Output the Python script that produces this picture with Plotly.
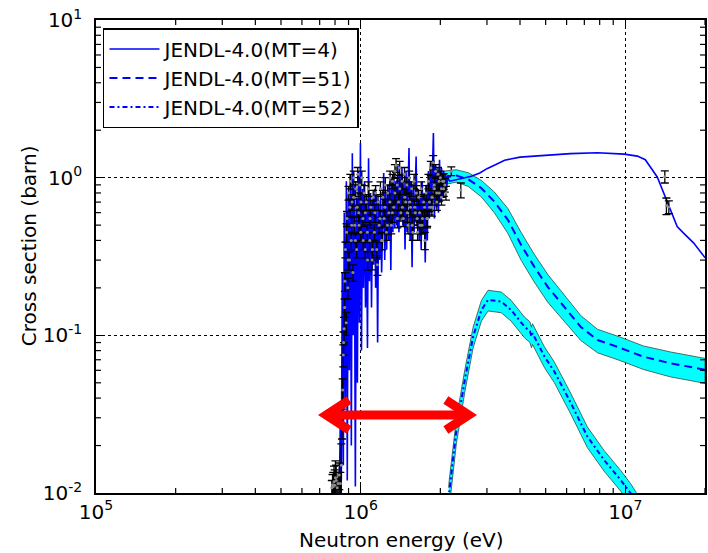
import math
import plotly.graph_objects as go

# ---------------------------------------------------------------------------
# Evaluated cross sections (JENDL-4.0), energies in MeV, cross sections in barn
# ---------------------------------------------------------------------------

# MT=4 : total inelastic (resolved structure below ~2.1 MeV, smooth above)
mt4_energy_mev = [
    0.830, 0.838, 0.845, 0.852, 0.860, 0.867, 0.875, 0.883, 0.890, 0.898,
    0.906, 0.914, 0.922, 0.930, 0.938, 0.946, 0.955, 0.963, 0.972, 0.980,
    0.989, 0.998, 1.007, 1.016, 1.025, 1.034, 1.043, 1.052, 1.061, 1.071,
    1.080, 1.090, 1.099, 1.109, 1.119, 1.129, 1.139, 1.149, 1.159, 1.169,
    1.180, 1.190, 1.200, 1.211, 1.222, 1.233, 1.243, 1.254, 1.266, 1.277,
    1.288, 1.300, 1.311, 1.323, 1.334, 1.346, 1.358, 1.370, 1.382, 1.395,
    1.407, 1.420, 1.432, 1.445, 1.458, 1.471, 1.484, 1.497, 1.510, 1.523,
    1.537, 1.550, 1.564, 1.578, 1.592, 1.606, 1.620, 1.635, 1.649, 1.664,
    1.679, 1.693, 1.708, 1.724, 1.739, 1.754, 1.770, 1.786, 1.802, 1.818,
    1.834, 1.850, 1.867, 1.883, 1.900, 1.917, 1.934, 1.951, 1.968, 1.986,
    2.003, 2.021, 2.039, 2.057, 2.075, 2.094, 2.112, 2.130,
    2.17, 2.40, 2.62, 2.82, 3.00, 3.20, 3.50, 4.00, 4.50, 5.10,
    6.20, 7.85, 9.90, 11.1, 11.9, 13.2, 14.7, 15.7, 16.6, 18.1,
    19.8, 20.0,
]
mt4_xs = [
    0.009, 0.030, 0.012, 0.25, 0.015, 0.60, 0.04, 0.95, 0.012, 0.80,
    0.06, 1.05, 0.02, 1.43, 0.10, 0.90, 0.011, 0.75, 0.05, 1.10,
    0.12, 1.66, 0.08, 0.85, 0.20, 0.95, 0.15, 0.75, 0.083, 1.33,
    0.22, 0.80, 0.15, 0.72, 0.28, 0.85, 0.20, 0.78, 0.09, 0.70,
    0.30, 0.80, 0.25, 0.75, 1.07, 0.30, 0.82, 0.35, 0.90, 0.40,
    0.95, 0.26, 1.00, 0.45, 1.10, 0.48, 0.95, 0.50, 1.20, 0.45,
    1.05, 0.55, 1.15, 0.50, 0.95, 0.35, 1.10, 0.45, 1.00, 1.54,
    0.40, 0.95, 0.27, 0.90, 0.45, 1.05, 1.36, 0.50, 0.85, 0.40,
    0.75, 0.35, 0.95, 0.45, 0.80, 0.29, 0.90, 0.40, 1.10, 0.55,
    1.25, 0.60, 1.05, 1.92, 0.55, 1.20, 0.65, 1.10, 0.60, 1.30,
    0.70, 1.15, 0.75, 1.10, 0.80, 1.05, 0.85, 1.00,
    0.95, 0.99, 1.02, 1.07, 1.14, 1.20, 1.29, 1.35, 1.37, 1.39,
    1.42, 1.44, 1.41, 1.37, 1.30, 1.01, 0.655, 0.49, 0.445, 0.386,
    0.318, 0.31,
]

# MT=51 : inelastic to the first excited level, with relative uncertainty
mt51_energy_mev = [2.05, 2.30, 2.55, 2.86, 3.20, 3.60, 4.04, 4.53, 5.09, 5.88,
                   6.79, 7.85, 9.60, 11.7, 14.8, 20.0]
mt51_xs = [1.00, 1.03, 0.977, 0.857, 0.705, 0.54, 0.374, 0.272, 0.203, 0.152,
           0.113, 0.0934, 0.0831, 0.0732, 0.0665, 0.0605]
mt51_rel_unc = [0.10, 0.09, 0.10, 0.12, 0.15, 0.18, 0.20, 0.20, 0.20, 0.19,
                0.18, 0.17, 0.17, 0.17, 0.18, 0.18]

# MT=52 : inelastic to the second excited level, with relative uncertainty
mt52_energy_mev = [2.15, 2.16, 2.30, 2.475, 2.66, 2.86, 3.03, 3.40, 3.70, 4.16,
                   4.36, 4.42, 4.46, 4.54, 4.95, 5.39, 6.23, 7.19, 8.31, 9.60,
                   10.47, 11.5]
mt52_xs = [0.0090, 0.0100, 0.0251, 0.0521, 0.098, 0.145, 0.168, 0.1636, 0.145, 0.1135,
           0.106, 0.098, 0.103, 0.097, 0.0733, 0.059, 0.0371, 0.0228, 0.0162, 0.0121,
           0.00997, 0.0078]
mt52_rel_unc = [0.20, 0.20, 0.18, 0.16, 0.15, 0.15, 0.15, 0.15, 0.15, 0.15,
                0.15, 0.15, 0.15, 0.15, 0.15, 0.15, 0.15, 0.15, 0.15, 0.15,
                0.15, 0.15]

# Measured total inelastic cross sections (value, absolute uncertainty)
exp_energy_mev = [
    0.778, 0.783, 0.788, 0.793, 0.798, 0.803, 0.808, 0.815, 0.822, 0.830,
    0.838, 0.845, 0.850, 0.855, 0.860, 0.866, 0.870, 0.876, 0.882, 0.888,
    0.894, 0.900, 0.907, 0.914, 0.921, 0.928, 0.935, 0.942, 0.950, 0.958,
    0.966, 0.975, 0.983, 0.992, 1.001, 1.010, 1.020, 1.030, 1.040, 1.050,
    1.060, 1.071, 1.082, 1.093, 1.104, 1.115, 1.127, 1.139, 1.151, 1.163,
    1.175, 1.188, 1.200, 1.213, 1.226, 1.239, 1.252, 1.265, 1.278, 1.292,
    1.305, 1.319, 1.333, 1.347, 1.361, 1.375, 1.390, 1.404, 1.419, 1.434,
    1.449, 1.464, 1.479, 1.495, 1.510, 1.526, 1.542, 1.558, 1.574, 1.591,
    1.607, 1.624, 1.641, 1.658, 1.676, 1.693, 1.711, 1.729, 1.747, 1.766,
    1.784, 1.803, 1.822, 1.841, 1.860, 1.880, 1.900, 1.920, 1.940, 1.960,
    1.980, 2.000, 2.020, 2.040, 2.060, 2.080, 2.100, 2.20, 2.39,
    14.1, 14.3, 14.6,
    # second measurement set across the resolved region
    0.862, 0.872, 0.885, 0.897, 0.910, 0.925, 0.940, 0.955, 0.970, 0.986,
    1.003, 1.022, 1.041, 1.062, 1.085, 1.108, 1.132, 1.157, 1.182, 1.208,
    1.235, 1.262, 1.290, 1.318, 1.347, 1.376, 1.406, 1.437, 1.468, 1.500,
    1.533, 1.566, 1.600, 1.635, 1.670, 1.706, 1.743, 1.781, 1.819, 1.858,
    1.898, 1.938, 1.979, 2.020, 2.060,
]
exp_xs = [
    0.0108, 0.0113, 0.0110, 0.0118, 0.0112, 0.0125, 0.0120, 0.0108, 0.0115, 0.0130,
    0.0115, 0.0150, 0.028, 0.045, 0.075, 0.11, 0.15, 0.35, 0.12, 0.55,
    0.20, 0.80, 0.30, 0.95, 0.40, 0.70, 0.25, 1.00, 0.50, 0.85,
    0.35, 1.05, 0.60, 0.90, 0.45, 1.00, 0.55, 0.80, 0.35, 0.70,
    0.45, 0.85, 0.40, 0.65, 0.30, 0.75, 0.45, 0.80, 0.35, 0.70,
    0.50, 0.85, 0.40, 0.75, 0.55, 0.90, 0.45, 0.80, 0.60, 1.00,
    0.50, 0.95, 0.65, 1.10, 1.20, 0.90, 0.70, 1.15, 0.60, 0.95,
    0.55, 1.05, 0.70, 0.90, 0.50, 1.00, 0.65, 0.85, 0.45, 0.95,
    0.60, 0.80, 0.45, 0.75, 0.50, 0.85, 0.55, 0.70, 0.40, 0.80,
    0.55, 0.95, 0.65, 1.15, 0.75, 1.25, 0.85, 1.10, 0.70, 1.05,
    0.80, 1.00, 0.75, 0.95, 0.85, 0.90, 0.80, 1.10, 0.835,
    1.015, 0.663, 0.652,
    0.09, 0.22, 0.45, 0.30, 0.65, 0.50, 0.75, 0.40, 0.65, 0.50,
    0.70, 0.40, 0.60, 0.30, 0.55, 0.35, 0.60, 0.28, 0.55, 0.40,
    0.65, 0.50, 0.70, 0.60, 0.80, 0.55, 0.85, 0.65, 0.75, 0.60,
    0.70, 0.50, 0.65, 0.55, 0.60, 0.50, 0.65, 0.55, 0.70, 0.65,
    0.90, 0.80, 0.95, 0.85, 0.95,
]
exp_err = [
    0.0012, 0.0018, 0.0025, 0.0030, 0.0028, 0.0035, 0.0030, 0.0015, 0.0020, 0.0025,
    0.0020, 0.0055, 0.006, 0.008, 0.012, 0.02, 0.02, 0.04, 0.02, 0.06,
    0.03, 0.08, 0.04, 0.10, 0.05, 0.08, 0.03, 0.10, 0.06, 0.09,
    0.04, 0.11, 0.07, 0.10, 0.05, 0.10, 0.06, 0.09, 0.04, 0.08,
    0.05, 0.09, 0.05, 0.07, 0.04, 0.08, 0.05, 0.09, 0.04, 0.08,
    0.06, 0.09, 0.05, 0.08, 0.06, 0.10, 0.05, 0.09, 0.07, 0.10,
    0.06, 0.10, 0.07, 0.11, 0.12, 0.10, 0.08, 0.12, 0.07, 0.10,
    0.06, 0.11, 0.08, 0.10, 0.06, 0.10, 0.07, 0.09, 0.05, 0.10,
    0.07, 0.09, 0.05, 0.08, 0.06, 0.09, 0.06, 0.08, 0.05, 0.09,
    0.06, 0.10, 0.07, 0.12, 0.08, 0.13, 0.09, 0.11, 0.08, 0.11,
    0.09, 0.10, 0.08, 0.10, 0.09, 0.09, 0.08, 0.07, 0.09,
    0.09, 0.08, 0.06,
    0.015, 0.03, 0.06, 0.04, 0.08, 0.06, 0.09, 0.05, 0.08, 0.06,
    0.09, 0.05, 0.08, 0.04, 0.07, 0.05, 0.08, 0.04, 0.07, 0.05,
    0.08, 0.06, 0.09, 0.08, 0.10, 0.07, 0.10, 0.08, 0.09, 0.08,
    0.09, 0.06, 0.08, 0.07, 0.08, 0.06, 0.08, 0.07, 0.09, 0.08,
    0.11, 0.10, 0.11, 0.10, 0.11,
]

x_tick_values = [1e5, 1e6, 1e7]
x_tick_labels = ["10<sup>5</sup>", "10<sup>6</sup>", "10<sup>7</sup>"]
y_tick_values = [1e-2, 1e-1, 1e0, 1e1]
y_tick_labels = ["10<sup>-2</sup>", "10<sup>-1</sup>", "10<sup>0</sup>", "10<sup>1</sup>"]

legend_names = ["JENDL-4.0(MT=4)", "JENDL-4.0(MT=51)", "JENDL-4.0(MT=52)"]

FONT = "DejaVu Sans"
BLUE = "#0000ff"
CYAN = "#00ffff"

X_RANGE = [5, math.log10(2e7)]
Y_RANGE = [-2, 1]

# figure geometry (pixels)
W, H = 708, 553
L, R, T, B = 96, 1, 20, 60
PW, PH = W - L - R, H - T - B


def mev_to_ev(values):
    return [v * 1e6 for v in values]


def band_outline(energy_mev, xs, rel):
    upper = [v * (1 + r) for v, r in zip(xs, rel)]
    lower = [v * (1 - r) for v, r in zip(xs, rel)]
    ex = mev_to_ev(energy_mev)
    return ex + ex[::-1], upper + lower[::-1]


def px(x):
    return (x - L) / PW


def py(y):
    return (T + PH - y) / PH


fig = go.Figure()

# uncertainty bands
for e, v, r in [(mt51_energy_mev, mt51_xs, mt51_rel_unc),
                (mt52_energy_mev, mt52_xs, mt52_rel_unc)]:
    bx, by = band_outline(e, v, r)
    fig.add_trace(go.Scatter(
        x=bx, y=by, mode="lines", fill="toself", fillcolor=CYAN,
        line=dict(color="#2a4a4a", width=0.8), showlegend=False, hoverinfo="skip",
    ))

# evaluated curves
fig.add_trace(go.Scatter(
    x=mev_to_ev(mt4_energy_mev), y=mt4_xs, mode="lines", name=legend_names[0],
    line=dict(color=BLUE, width=1.6),
))
fig.add_trace(go.Scatter(
    x=mev_to_ev(mt51_energy_mev), y=mt51_xs, mode="lines", name=legend_names[1],
    line=dict(color=BLUE, width=2, dash="8px,5px"),
))
fig.add_trace(go.Scatter(
    x=mev_to_ev(mt52_energy_mev), y=mt52_xs, mode="lines", name=legend_names[2],
    line=dict(color=BLUE, width=2, dash="5px,3px,2px,3px"),
))

# measurements
fig.add_trace(go.Scatter(
    x=mev_to_ev(exp_energy_mev), y=exp_xs, mode="markers", showlegend=False,
    marker=dict(color="#8a8a8a", size=3),
    error_y=dict(type="data", array=exp_err, color="black", thickness=1.3, width=4),
))

# minor log ticks on all four sides, drawn inside the frame
MINOR_LEN = 5  # px
dy = MINOR_LEN / PH * (Y_RANGE[1] - Y_RANGE[0])   # decades
dx = MINOR_LEN / PW * (X_RANGE[1] - X_RANGE[0])   # decades
y_lo, y_hi = 10 ** Y_RANGE[0], 10 ** Y_RANGE[1]
x_lo, x_hi = 10 ** X_RANGE[0], 10 ** X_RANGE[1]
tx, ty = [], []
for d in (5, 6, 7):
    for m in range(2, 10):
        v = m * 10 ** d
        if v >= x_hi:
            continue
        tx += [v, v, None, v, v, None]
        ty += [y_lo, y_lo * 10 ** dy, None, y_hi, y_hi / 10 ** dy, None]
for d in (-2, -1, 0):
    for m in range(2, 10):
        v = m * 10.0 ** d
        tx += [x_lo, x_lo * 10 ** dx, None, x_hi, x_hi / 10 ** dx, None]
        ty += [v, v, None, v, v, None]
fig.add_trace(go.Scatter(
    x=tx, y=ty, mode="lines", line=dict(color="black", width=1.2),
    showlegend=False, hoverinfo="skip", connectgaps=False,
))

# red double-headed arrow marking the energy window
arrow_y = 415
shapes = [
    dict(type="line", xref="paper", yref="paper",
         x0=px(327), y0=py(arrow_y), x1=px(470), y1=py(arrow_y),
         line=dict(color="#ff0000", width=9)),
    dict(type="path", xref="paper", yref="paper",
         path="M {:.5f},{:.5f} L {:.5f},{:.5f} L {:.5f},{:.5f}".format(
             px(350), py(arrow_y - 15), px(327), py(arrow_y), px(350), py(arrow_y + 15)),
         line=dict(color="#ff0000", width=9)),
    dict(type="path", xref="paper", yref="paper",
         path="M {:.5f},{:.5f} L {:.5f},{:.5f} L {:.5f},{:.5f}".format(
             px(447), py(arrow_y - 15), px(470), py(arrow_y), px(447), py(arrow_y + 15)),
         line=dict(color="#ff0000", width=9)),
]

axis_common = dict(
    type="log", showline=True, linecolor="black", linewidth=1.5, mirror="allticks",
    ticks="inside", ticklen=8, tickwidth=1, tickcolor="black",
    showgrid=True, gridcolor="black", griddash="dot", gridwidth=1,
    zeroline=False, tickfont=dict(family=FONT, size=20, color="black"),
)

fig.update_layout(
    width=W, height=H,
    margin=dict(l=L, r=R, t=T, b=B, pad=0),
    plot_bgcolor="white", paper_bgcolor="white",
    font=dict(family=FONT, size=20, color="black"),
    xaxis=dict(axis_common, range=X_RANGE,
               tickvals=x_tick_values, ticktext=x_tick_labels, ticklabelstandoff=0),
    yaxis=dict(axis_common, range=Y_RANGE,
               tickvals=y_tick_values, ticktext=y_tick_labels, ticklabelstandoff=8),
    legend=dict(x=px(103), y=py(28), xanchor="left", yanchor="top",
                bgcolor="white", bordercolor="black", borderwidth=1.5,
                itemwidth=50,
                font=dict(family=FONT, size=20, color="black")),
    shapes=shapes,
    annotations=[
        dict(text="Neutron energy (eV)", xref="paper", yref="paper",
             x=px(402), y=py(540), xanchor="center", yanchor="middle",
             showarrow=False, font=dict(family=FONT, size=20)),
        dict(text="Cross section (barn)", xref="paper", yref="paper",
             x=px(29), y=py(246), xanchor="center", yanchor="middle", textangle=-90,
             showarrow=False, font=dict(family=FONT, size=20)),
    ],
)

fig.write_html("out.html")
